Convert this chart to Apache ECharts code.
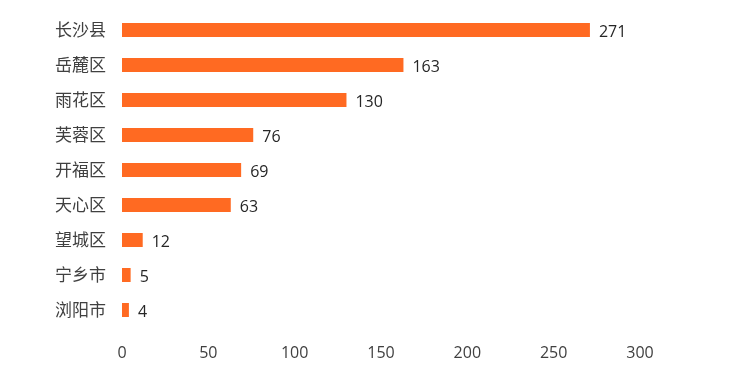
<!DOCTYPE html>
<html><head><meta charset="utf-8">
<script src="https://cdn.jsdelivr.net/npm/echarts@6/dist/echarts.min.js"></script>
<style>html,body{margin:0;padding:0;background:#fff}#c{width:741px;height:381px}</style>
</head><body><div id="c"></div>
<script>
const categories = ['长沙县','岳麓区','雨花区','芙蓉区','开福区','天心区','望城区','宁乡市','浏阳市'];
const values = [271,163,130,76,69,63,12,5,4];
const xTicks = {min:0,max:300,interval:50};
const chart = echarts.init(document.getElementById('c'));
chart.setOption({
  animation:false,
  grid:{left:122,right:101,top:12.5,bottom:53.5,containLabel:false},
  xAxis:{type:'value',min:xTicks.min,max:xTicks.max,interval:xTicks.interval,
    axisLine:{show:false},axisTick:{show:false},splitLine:{show:false},
    axisLabel:{color:'#404040',fontSize:16,fontFamily:'Open Sans',margin:18}},
  yAxis:{type:'category',data:categories,inverse:true,
    axisLine:{show:false},axisTick:{show:false},
    axisLabel:{color:'#404040',fontSize:17,fontFamily:'Noto Sans CJK SC',margin:16}},
  series:[{type:'bar',data:values,barWidth:14,
    itemStyle:{color:'#FF6A22'},
    label:{show:true,position:'right',distance:9,offset:[0,2],color:'#262626',fontSize:16,fontFamily:'Open Sans'}}]
});
</script></body></html>
